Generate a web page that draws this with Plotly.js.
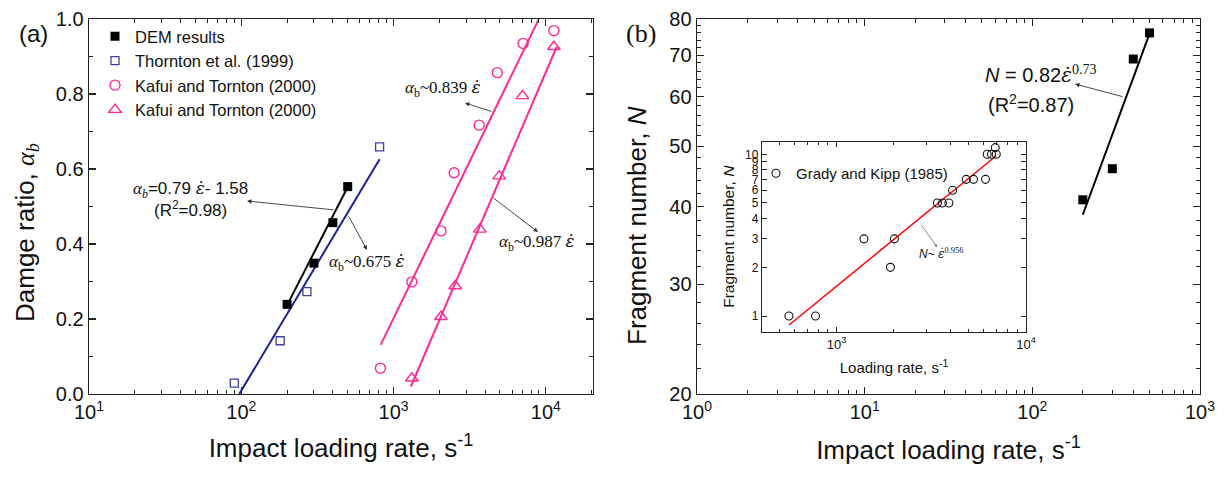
<!DOCTYPE html>
<html>
<head>
<meta charset="utf-8">
<script src="https://cdn.plot.ly/plotly-3.0.1.min.js"></script>
<style>html,body{margin:0;padding:0;background:#fff;}#plot{width:1227px;height:483px;}</style>
</head>
<body>
<div id="plot"></div>
<script>
// ---------- Panel (a) data ----------
const demRateA = [200, 300, 400, 500];
const demDamage = [0.239, 0.349, 0.457, 0.553];
const thorntonRate = [90, 180, 270, 810];
const thorntonDamage = [0.029, 0.142, 0.273, 0.659];
const kafuiCircRate = [820, 1320, 2050, 2500, 3650, 4800, 7100, 11300];
const kafuiCircDamage = [0.069, 0.299, 0.435, 0.590, 0.717, 0.857, 0.935, 0.969];
const kafuiTriRate = [1320, 2050, 2540, 3690, 4940, 7030, 11300];
const kafuiTriDamage = [0.042, 0.206, 0.288, 0.439, 0.581, 0.795, 0.926];
// fitted lines (end points)
const fitDemRate = [200, 500], fitDemDamage = [0.237, 0.552];
const fitThRate = [97, 810], fitThDamage = [0.0, 0.626];
const fitCircRate = [823, 9000], fitCircDamage = [0.131, 1.0];
const fitTriRate = [1300, 11800], fitTriDamage = [0.02, 0.926];

// ---------- Panel (b) data ----------
const demRateB = [200, 300, 400, 500];
const demFragments = [41, 46, 69, 76];
const fitBRate = [200, 492], fitBFragments = [38.8, 74.9];

// ---------- Inset data (Grady and Kipp 1985) ----------
const gkRate = [560, 774, 1394, 1923, 2018, 3404, 3619, 3916, 4096, 4834, 5283, 6113, 6237, 6573, 6965, 6882];
const gkFragments = [1, 1, 3, 2, 3, 5, 5, 5, 6, 7, 7, 7, 10, 10, 10, 11];
const fitGkRate = [561, 6966], fitGkFragments = [0.88, 9.8];

// ---------- tick labels ----------
const aXTickVals = [10, 100, 1000, 10000];
const aXTickText = ['10<sup>1</sup>', '10<sup>2</sup>', '10<sup>3</sup>', '10<sup>4</sup>'];
const bXTickVals = [1, 10, 100, 1000];
const bXTickText = ['10<sup>0</sup>', '10<sup>1</sup>', '10<sup>2</sup>', '10<sup>3</sup>'];
const bYTickVals = [20, 30, 40, 50, 60, 70, 80];
const inXTickVals = [1000, 10000];
const inXTickText = ['10<sup>3</sup>', '10<sup>4</sup>'];
const inYTickVals = [1, 2, 3, 4, 5, 6, 7, 8, 9, 10];

function logMinor(decades, maxV, minV) {
  const out = [];
  decades.forEach(d => { for (let m = 2; m <= 9; m++) { const v = m * d; if (v <= maxV && v >= minV) out.push(v); } });
  return out;
}
const bYMinor = [];
for (let v = 22; v < 80; v += 2) if (v % 10 !== 0) bYMinor.push(v);

const MAG = '#ff2a92';
const BLUE = '#3f3fa6';
const NAVY = '#1e1e98';
const AX = '#222222';
const SANS = 'Arial, "Liberation Sans", sans-serif';
const SERIF = '"Times New Roman", "Liberation Serif", serif';
const ALPHA = '<span style="font-family:\'Liberation Serif\'"><i>α</i><sub><i>b</i></sub></span>';
const EPSDOT = '<span style="font-family:\'DejaVu Serif\'"><i>ε̇</i></span>';

const traces = [
  // panel (a)
  {x: fitDemRate, y: fitDemDamage, mode: 'lines', line: {color: '#000', width: 2}, showlegend: false, xaxis: 'x', yaxis: 'y', hoverinfo: 'skip'},
  {x: fitThRate, y: fitThDamage, mode: 'lines', line: {color: NAVY, width: 2}, showlegend: false, xaxis: 'x', yaxis: 'y', hoverinfo: 'skip'},
  {x: fitCircRate, y: fitCircDamage, mode: 'lines', line: {color: MAG, width: 2}, showlegend: false, xaxis: 'x', yaxis: 'y', hoverinfo: 'skip'},
  {x: fitTriRate, y: fitTriDamage, mode: 'lines', line: {color: MAG, width: 2}, showlegend: false, xaxis: 'x', yaxis: 'y', hoverinfo: 'skip'},
  {x: demRateA, y: demDamage, name: 'DEM results', mode: 'markers', marker: {symbol: 'square', size: 9, color: '#000'}, xaxis: 'x', yaxis: 'y', legend: 'legend'},
  {x: thorntonRate, y: thorntonDamage, name: 'Thornton et al. (1999)', mode: 'markers', marker: {symbol: 'square-open', size: 8, color: BLUE, line: {width: 1.3}}, xaxis: 'x', yaxis: 'y', legend: 'legend'},
  {x: kafuiCircRate, y: kafuiCircDamage, name: 'Kafui and Tornton (2000)', mode: 'markers', marker: {symbol: 'circle-open', size: 10, color: MAG, line: {width: 1.4}}, xaxis: 'x', yaxis: 'y', legend: 'legend'},
  {x: kafuiTriRate, y: kafuiTriDamage, name: 'Kafui and Tornton (2000)', mode: 'markers', marker: {symbol: 'triangle-up-open', size: 11, color: MAG, line: {width: 1.4}}, xaxis: 'x', yaxis: 'y', legend: 'legend'},
  // panel (b)
  {x: fitBRate, y: fitBFragments, mode: 'lines', line: {color: '#000', width: 2}, showlegend: false, xaxis: 'x2', yaxis: 'y2', hoverinfo: 'skip'},
  {x: demRateB, y: demFragments, name: 'DEM results', mode: 'markers', marker: {symbol: 'square', size: 9, color: '#000'}, xaxis: 'x2', yaxis: 'y2', showlegend: false},
  // inset
  {x: fitGkRate, y: fitGkFragments, mode: 'lines', line: {color: '#ff0000', width: 1.5}, showlegend: false, xaxis: 'x3', yaxis: 'y3', hoverinfo: 'skip'},
  {x: gkRate, y: gkFragments, name: 'Grady and Kipp (1985)', mode: 'markers', marker: {symbol: 'circle-open', size: 8, color: '#111', line: {width: 1.1}}, xaxis: 'x3', yaxis: 'y3', legend: 'legend2'}
];

const W = 1227, H = 483;
const px = v => v / W, py = v => (H - v) / H;

function baseAxis(extra) {
  return Object.assign({
    showline: true, linecolor: AX, linewidth: 1.4, mirror: 'ticks',
    ticks: 'inside', ticklen: 7, tickwidth: 1.2, tickcolor: AX,
    showgrid: false, zeroline: false,
    tickfont: {family: SANS, size: 20, color: '#111'}
  }, extra);
}
function label(text, x, y, size, family, extra) {
  return Object.assign({text: text, xref: 'paper', yref: 'paper', x: px(x), y: py(y), xanchor: 'center', yanchor: 'middle',
    showarrow: false, font: {family: family || SANS, size: size, color: '#111'}}, extra || {});
}
function arrow(hx, hy, tx, ty, w, s, c) {
  return {text: '', xref: 'paper', yref: 'paper', x: px(hx), y: py(hy), axref: 'pixel', ayref: 'pixel',
    ax: tx - hx, ay: ty - hy, showarrow: true, arrowhead: 2, arrowsize: s || 1, arrowwidth: w || 0.9, arrowcolor: c || '#333'};
}

const layout = {
  width: W, height: H,
  margin: {l: 0, r: 0, t: 0, b: 0},
  paper_bgcolor: '#fff', plot_bgcolor: '#fff',
  font: {family: SANS, color: '#111'},
  xaxis: baseAxis({
    type: 'log', range: [1, 4.31], domain: [px(89), px(593)], anchor: 'y',
    tickmode: 'array', tickvals: aXTickVals, ticktext: aXTickText,
    minor: {tickmode: 'array', tickvals: logMinor([10, 100, 1000, 10000], 20000, 10), ticklen: 4, tickwidth: 1, tickcolor: AX, ticks: 'inside'},
    title: {text: 'Impact loading rate, s<sup>-1</sup>', font: {family: SANS, size: 26, color: '#111'}, standoff: 16}
  }),
  yaxis: baseAxis({
    range: [0, 1], domain: [py(394), py(19)], anchor: 'x',
    tickmode: 'linear', tick0: 0, dtick: 0.2, tickformat: '.1f',
    minor: {tickmode: 'linear', tick0: 0, dtick: 0.1, ticklen: 4, tickwidth: 1, tickcolor: AX, ticks: 'inside'}
  }),
  xaxis2: baseAxis({
    type: 'log', range: [0, 3], domain: [px(697), px(1200)], anchor: 'y2',
    tickmode: 'array', tickvals: bXTickVals, ticktext: bXTickText,
    minor: {tickmode: 'array', tickvals: logMinor([1, 10, 100], 1000, 1), ticklen: 4, tickwidth: 1, tickcolor: AX, ticks: 'inside'},
    title: {text: 'Impact loading rate, s<sup>-1</sup>', font: {family: SANS, size: 26, color: '#111'}, standoff: 18}
  }),
  yaxis2: baseAxis({
    type: 'log', range: [Math.log10(20), Math.log10(80)], domain: [py(394), py(19)], anchor: 'x2',
    tickmode: 'array', tickvals: bYTickVals, ticktext: bYTickVals.map(String),
    minor: {tickmode: 'array', tickvals: bYMinor, ticklen: 4, tickwidth: 1, tickcolor: AX, ticks: 'inside'}
  }),
  xaxis3: baseAxis({
    type: 'log', range: [2.606, 4], domain: [px(762), px(1026)], anchor: 'y3',
    linewidth: 1.2, ticklen: 5, tickwidth: 1,
    tickmode: 'array', tickvals: inXTickVals, ticktext: inXTickText,
    tickfont: {family: SANS, size: 13, color: '#111'},
    minor: {tickmode: 'array', tickvals: logMinor([100, 1000], 9000, 410), ticklen: 3, tickwidth: 1, tickcolor: AX, ticks: 'inside'},
    title: {text: 'Loading rate, s<sup>-1</sup>', font: {family: SANS, size: 15, color: '#111'}, standoff: 12}
  }),
  yaxis3: baseAxis({
    type: 'log', range: [-0.097, 1.078], domain: [py(331.7), py(141.7)], anchor: 'x3',
    linewidth: 1.2, ticklen: 5, tickwidth: 1,
    tickmode: 'array', tickvals: inYTickVals, ticktext: inYTickVals.map(String),
    tickfont: {family: SANS, size: 12, color: '#111'},
    title: {text: 'Fragment number, <i>N</i>', font: {family: SANS, size: 15.5, color: '#111'}, standoff: 6}
  }),
  legend: {
    x: px(95), y: py(19), xanchor: 'left', yanchor: 'top',
    bgcolor: 'rgba(0,0,0,0)', borderwidth: 0,
    font: {family: SANS, size: 16.5, color: '#111'},
    tracegroupgap: 0, itemwidth: 30
  },
  legend2: {
    x: px(756), y: py(157), xanchor: 'left', yanchor: 'top',
    bgcolor: 'rgba(0,0,0,0)', borderwidth: 0,
    font: {family: SANS, size: 15, color: '#111'}, itemwidth: 30
  },
  annotations: [
    // panel labels
    label('(a)', 33, 33, 24, SANS),
    label('(b)', 641, 33, 26, SERIF),
    // y titles
    label('Damge ratio, ' + ALPHA, 26, 233, 26, SANS, {textangle: -90}),
    label('Fragment number, <i>N</i>', 637, 226, 26, SANS, {textangle: -90}),
    // fit equations panel (a)
    label(ALPHA + '=0.79 ' + EPSDOT + '- 1.58<br>(R<sup>2</sup>=0.98)', 190, 199, 17, SANS),
    label('<i>α</i><sub>b</sub>~0.675 ' + EPSDOT, 367, 262, 17, SERIF),
    label('<i>α</i><sub>b</sub>~0.839 ' + EPSDOT, 443, 89, 17, SERIF),
    label('<i>α</i><sub>b</sub>~0.987 ' + EPSDOT, 537, 243, 17, SERIF),
    // arrows panel (a)
    arrow(247, 201, 335, 210),
    arrow(367, 250, 348, 215),
    arrow(465, 103, 493, 112),
    arrow(538, 232, 492, 197),
    // panel (b) equation
    label('<i>N</i> = 0.82' + EPSDOT + '<span style="font-family:\'Liberation Serif\'"><sup>0.73</sup></span>', 1040, 75, 20, SANS),
    label('(R<sup>2</sup>=0.87)', 1031, 103, 20, SANS),
    arrow(1075, 84, 1124, 97),
    // inset equation
    label('<i>N</i>~ ' + EPSDOT + '<span style="font-family:\'Liberation Serif\'"><sup>0.956</sup></span>', 941, 253, 12, SANS),
    arrow(937, 247, 920, 223, 0.7, 0.8, '#555')
  ]
};

Plotly.newPlot('plot', traces, layout, {staticPlot: true, displayModeBar: false});
</script>
</body>
</html>
